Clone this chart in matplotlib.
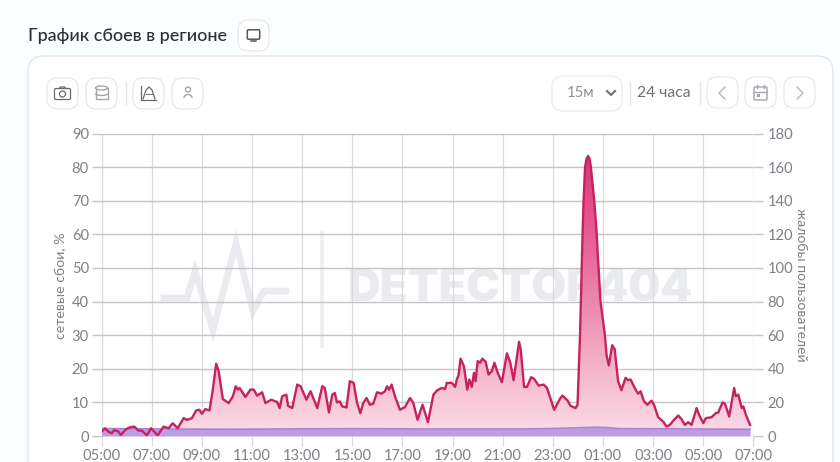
import numpy as np
import matplotlib
matplotlib.use("Agg")
import matplotlib.pyplot as plt
from matplotlib.colors import LinearSegmentedColormap
from matplotlib.patches import FancyBboxPatch, Polygon, Circle, Rectangle, Ellipse, Arc

# минуты от 05:00 и значения
outage_min = [
    0, 8, 16, 24, 30, 40, 46, 58, 68, 78, 88, 96, 108, 118, 134, 148, 160, 170, 182, 196,
    204, 216, 226, 234, 240, 248, 258, 266, 274, 280, 290, 304, 314, 321, 326, 330, 344, 356, 364, 372,
    384, 392, 406, 420, 426, 432, 442, 446, 456, 468, 476, 490, 500, 516, 528, 534, 544, 552, 558, 563,
    570, 576, 586, 594, 603, 611, 619, 626, 634, 642, 650, 659, 670, 678, 683, 688, 694, 702, 714, 726,
    738, 746, 756, 768, 781, 794, 802, 814, 822, 826, 838, 846, 850, 854, 859, 867, 875, 880, 886, 891,
    895, 900, 906, 911, 919, 926, 934, 940, 948, 958, 970, 978, 986, 999, 1003, 1011, 1018, 1028, 1035, 1046,
    1058, 1066, 1083, 1098, 1103, 1115, 1122, 1134, 1139, 1143, 1145, 1147, 1150, 1151, 1153.5, 1157, 1161, 1164.5, 1168, 1171,
    1179, 1185, 1187, 1194, 1204.5, 1208.5, 1214,
    1222, 1228, 1236, 1244, 1254, 1260, 1266, 1278, 1284, 1290, 1298, 1306, 1316, 1322, 1332, 1344, 1352, 1360, 1370, 1380,
    1388, 1396, 1404, 1412, 1424, 1430, 1440, 1446, 1460, 1470, 1476, 1486, 1492, 1502, 1514, 1518, 1524, 1532, 1536, 1542,
    1552,
]
outage_pct = [
    1.3, 2.3, 1.3, 0.8, 1.8, 1.3, 0.3, 2.0, 2.6, 2.8, 1.6, 1.6, 0.2, 2.3, 0.2, 2.8, 2.3, 3.8, 2.3, 5.3,
    4.8, 5.3, 7.6, 7.8, 6.6, 8.0, 7.6, 13.8, 21.5, 19.3, 11.0, 9.8, 11.8, 14.8, 13.8, 14.3, 11.6, 13.8, 13.8, 12.0,
    13.0, 9.8, 10.8, 10.1, 8.3, 11.8, 12.3, 9.0, 8.3, 15.3, 14.8, 10.8, 13.3, 8.3, 14.8, 14.3, 7.0, 12.3, 12.8, 10.0,
    10.3, 8.8, 8.5, 16.3, 15.8, 10.0, 6.8, 9.8, 11.3, 9.3, 9.6, 13.0, 12.6, 13.3, 14.8, 13.8, 15.3, 11.8, 7.8, 8.6,
    11.3, 9.8, 4.8, 9.3, 4.1, 12.3, 13.5, 14.3, 14.0, 15.8, 15.8, 14.6, 16.8, 18.0, 23.0, 20.8, 13.8, 16.8, 14.6, 18.8,
    16.3, 22.3, 21.8, 23.0, 22.1, 18.3, 19.3, 21.8, 18.8, 16.0, 24.6, 21.8, 16.6, 28.0, 25.8, 14.6, 14.6, 17.5, 17.0, 15.0,
    15.3, 14.3, 7.8, 11.3, 12.0, 10.6, 9.0, 8.3, 9.3, 23.6, 30.0, 40.0, 55.0, 60.0, 70.0, 80.0, 82.6, 83.3, 82.4, 80.0,
    70.0, 60.0, 55.0, 40.0, 30.0, 24.0, 21.0,
    27.0, 25.8, 16.3, 13.6, 17.3, 16.6, 16.8, 13.8, 12.6, 13.3, 10.3, 9.3, 10.5, 9.3, 5.6, 4.3, 2.8, 3.3, 4.8, 6.1,
    5.0, 3.3, 4.1, 3.3, 8.3, 6.3, 3.8, 5.3, 5.6, 6.8, 7.0, 10.0, 9.6, 5.8, 14.3, 11.8, 12.3, 8.3, 8.8, 6.3,
    3.3,
]
reports_min = [0, 150, 300, 450, 600, 750, 900, 1020, 1100, 1180, 1210, 1240, 1400, 1552]
reports_pct = [2.2, 2.1, 2.0, 2.1, 2.2, 2.1, 2.1, 2.1, 2.3, 2.6, 2.5, 2.2, 2.1, 2.0]

time_ticks = [0, 120, 240, 360, 480, 600, 720, 840, 960, 1080, 1200, 1320, 1440, 1560]
time_labels = ["05:00", "07:00", "09:00", "11:00", "13:00", "15:00", "17:00",
               "19:00", "21:00", "23:00", "01:00", "03:00", "05:00", "07:00"]
left_ticks = [0, 10, 20, 30, 40, 50, 60, 70, 80, 90]
right_labels = ["0", "20", "40", "60", "80", "100", "120", "140", "160", "180"]

W, H = 840, 462
FONT = "Lato"
TEXT = "#7d8087"
plt.rcParams["font.family"] = [FONT, "DejaVu Sans"]

fig = plt.figure(figsize=(W / 100, H / 100), dpi=100, facecolor="#fbfefe")

# слой интерфейса в пикселях
ui = fig.add_axes([0, 0, 1, 1])
ui.set_xlim(0, W)
ui.set_ylim(H, 0)
ui.axis("off")


def button(x, y, w, h, r=10, ec="#e6e7ea"):
    ui.add_patch(FancyBboxPatch((x + r, y + r), w - 2 * r, h - 2 * r, boxstyle=f"round,pad={r}",
                                fc="white", ec=ec, lw=0.9))


# карточка
ui.add_patch(FancyBboxPatch((44, 72), 773, 460, boxstyle="round,pad=16", fc="white", ec="#e3e6ea", lw=1))

ui.text(28, 36.5, "График сбоев в регионе", fontsize=12.9, color="#2b2f36", va="center", weight="medium")
button(238, 20, 31, 31)
ui.add_patch(FancyBboxPatch((248.5, 31), 10, 7, boxstyle="round,pad=1.2", fc="white", ec="#55585e", lw=1.1))
ui.plot([251, 256], [41, 41], color="#55585e", lw=1.1)

for bx in (47, 86, 133, 172):
    button(bx, 78, 31, 31)
ui.plot([125.5, 125.5], [82, 104], color="#e3e4e8", lw=1)

# камера
ui.add_patch(FancyBboxPatch((56, 90), 13, 8, boxstyle="round,pad=1.5", fc="white", ec="#666a70", lw=0.9))
ui.add_patch(Circle((62.5, 94), 3, fc="white", ec="#666a70", lw=0.9))
ui.plot([59, 60.5, 64.5, 66], [88.5, 87, 87, 88.5], color="#666a70", lw=0.9)
# база
ui.add_patch(Rectangle((95.5, 88), 12, 11, fc="white", ec="#a3a5aa", lw=1))
ui.add_patch(Ellipse((101.5, 88), 12, 4, fc="white", ec="#a3a5aa", lw=1))
ui.add_patch(Arc((101.5, 93.5), 12, 4, theta1=0, theta2=180, ec="#a3a5aa", lw=1))
# график-область
ui.plot([141, 141, 156], [86, 100, 100], color="#666a70", lw=0.9)
ui.plot([143, 146, 149, 152, 155], [99, 90, 87, 90, 99], color="#666a70", lw=0.9)
ui.plot([146, 152], [94, 94], color="#666a70", lw=0.7)
# пользователь
ui.add_patch(Circle((188, 89.5), 2.5, fc="white", ec="#a3a5aa", lw=1))
ui.add_patch(Arc((188, 98), 8, 7, theta1=180, theta2=360, ec="#a3a5aa", lw=1))

# правая панель
button(552, 76, 70, 35, r=11, ec="#ecedf0")
ui.text(567, 93, "15м", fontsize=10.7, color="#8f9197", va="center")
ui.plot([607, 611, 615], [91, 95, 91], color="#73767c", lw=1.6)
ui.plot([629.5, 629.5], [82, 104], color="#e3e4e8", lw=1)
ui.text(637, 93, "24 часа", fontsize=11.3, color="#6d7076", va="center")
ui.plot([699.5, 699.5], [82, 104], color="#e3e4e8", lw=1)
for bx in (707, 745, 784):
    button(bx, 77, 31, 31, ec="#e8e9ec")
ui.plot([725, 719, 725], [87, 93, 99], color="#b5b7bb", lw=1)
ui.plot([797, 803, 797], [87, 93, 99], color="#b5b7bb", lw=1)
ui.add_patch(FancyBboxPatch((755, 88), 11, 11, boxstyle="round,pad=1", fc="white", ec="#a3a5aa", lw=1))
ui.plot([754, 767], [91.5, 91.5], color="#a3a5aa", lw=1)
ui.plot([757, 757], [85, 88], color="#a3a5aa", lw=1)
ui.plot([764, 764], [85, 88], color="#a3a5aa", lw=1)
ui.add_patch(Rectangle((757, 94), 2.5, 2.5, fc="#a3a5aa", ec="none"))

# водяной знак
ui.plot([164, 187, 195, 213, 236, 253, 264, 286], [298, 298, 271, 330, 243, 311, 291, 291],
        color="#e9ebee", lw=4.8, solid_joinstyle="miter")
ui.plot([322, 322], [233, 346], color="#eceef0", lw=2.6)
ui.text(348, 289, "DETECTOR404", fontsize=32.6, color="#e9ebee", weight="black", va="center", family="Inter")

# сам график
L, R, T, B = 101.7, 753.4, 133.5, 436.0
ax = fig.add_axes([L / W, 1 - B / H, (R - L) / W, (B - T) / H], facecolor="none")
ax.set_xlim(0, 1560)
ax.set_ylim(0, 90)

ax.set_xticks(time_ticks, time_labels)
ax.set_yticks(left_ticks)
ax.grid(axis="y", color="#c2c4c8", lw=1)
ax.grid(axis="x", color="#d8dadd", lw=0.9)
ax.set_axisbelow(True)
for s in ax.spines.values():
    s.set_visible(False)
ax.tick_params(axis="x", length=7.2, width=0.9, color="#d8dadd", labelsize=10.6, labelcolor=TEXT, pad=2)
ax.tick_params(axis="y", length=7.2, width=1, color="#c2c4c8", labelsize=10.6, labelcolor=TEXT, pad=2)

pink_map = LinearSegmentedColormap.from_list(
    "pink_fade", [(0, "#fbdde7"), (0.2, "#f5b9cd"), (0.4, "#ee8fb1"), (0.7, "#e65790"), (1, "#d92f70")])
grad = np.linspace(0, 1, 256).reshape(-1, 1)
img = ax.imshow(grad, extent=(0, 1560, 0, 90), origin="lower", cmap=pink_map, vmin=0, vmax=1,
                aspect="auto", zorder=2)
poly = Polygon(list(zip(outage_min, outage_pct)) + [(outage_min[-1], 0), (outage_min[0], 0)],
               transform=ax.transData, fc="none", ec="none")
ax.add_patch(poly)
img.set_clip_path(poly)

ax.fill_between(reports_min, reports_pct, 0, color="#bb9de0", lw=0, zorder=3)
ax.plot(reports_min, reports_pct, color="#a983da", lw=1.2, zorder=3)
ax.plot(outage_min, outage_pct, color="#c72160", lw=1.7, zorder=4, solid_joinstyle="round")
ax.set_xlim(0, 1560)
ax.set_ylim(0, 90)

ax2 = ax.twinx()
ax2.set_ylim(0, 180)
ax2.set_yticks(range(0, 181, 20), right_labels)
for s in ax2.spines.values():
    s.set_visible(False)
ax2.tick_params(axis="y", length=7.2, width=1, color="#c2c4c8", labelsize=10.6, labelcolor=TEXT, pad=3)

ui.text(60, 285.5, "сетевые сбои, %", rotation=90, fontsize=10.2, color=TEXT, ha="center", va="center")
ui.text(801, 285, "жалобы пользователей", rotation=-90, fontsize=10.1, color=TEXT, ha="center", va="center")

fig.savefig("out.png", dpi=100, facecolor=fig.get_facecolor())
